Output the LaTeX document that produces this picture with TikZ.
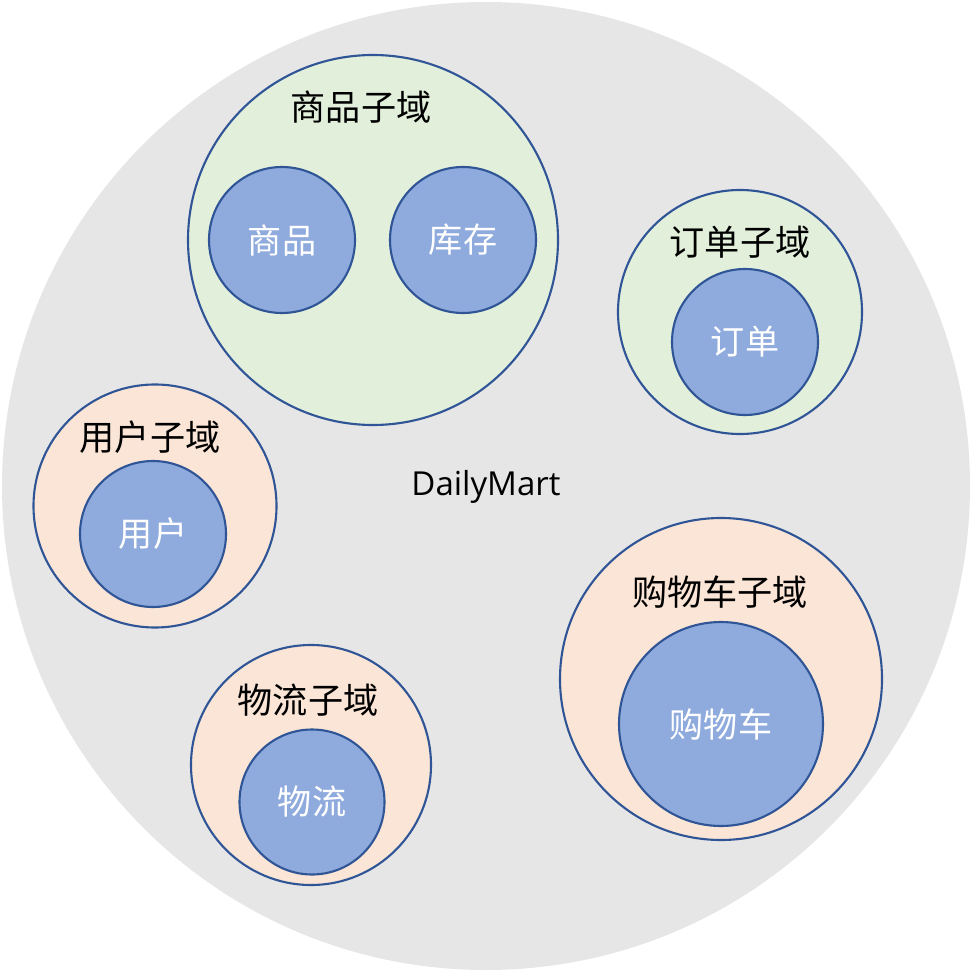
\documentclass[tikz,border=0pt]{standalone}
\usepackage{fontspec}
\setmainfont{Noto Sans CJK SC}
\newfontfamily\martfont{Open Sans}
\usepackage{tikz}
\definecolor{martBg}{RGB}{231,230,230}
\definecolor{domGreen}{RGB}{226,239,218}
\definecolor{domPeach}{RGB}{251,229,214}
\definecolor{entBg}{RGB}{143,170,220}
\definecolor{edgeInk}{RGB}{47,85,151}

\begin{document}
\begin{tikzpicture}[
  x=0.1mm, y=-0.1mm,
  mart/.style   ={circle, fill=martBg, inner sep=0pt, minimum size=96.8mm},
  greendom/.style={circle, draw=edgeInk, line width=.6pt, fill=domGreen, inner sep=0pt},
  peachdom/.style={circle, draw=edgeInk, line width=.6pt, fill=domPeach, inner sep=0pt},
  entity/.style ={circle, draw=edgeInk, line width=.6pt, fill=entBg, inner sep=0pt,
                  minimum size=14.6mm, text=white, font=\fontsize{9.7}{11}\selectfont},
  domlabel/.style={font=\fontsize{10}{12}\selectfont, text=black, inner sep=0pt},
]
\useasboundingbox (0,0) rectangle (972,972);

% ============ WHOLE DOMAIN ============
\node[mart] (mart) at (486,486) {};
\node[font=\martfont\fontsize{9.4}{11}\selectfont, inner sep=0pt] (martname) at (486,487) {DailyMart};

% ============ GREEN SUBDOMAINS ============
\node[greendom, minimum size=37mm] (goodsDom) at (373,240) {};
\node[domlabel] (goodsDomName) at (361,107) {商品子域};
\node[entity] (goods) at (282,240) {商品};
\node[entity] (stock) at (463,240) {库存};

\node[greendom, minimum size=24.4mm] (orderDom) at (740,312) {};
\node[domlabel] (orderDomName) at (740,242) {订单子域};
\node[entity] (order) at (745,342) {订单};

% ============ PEACH SUBDOMAINS ============
\node[peachdom, minimum size=24.3mm] (userDom) at (155,506) {};
\node[domlabel] (userDomName) at (150,437) {用户子域};
\node[entity] (user) at (153,534) {用户};

\node[peachdom, minimum size=24mm] (shipDom) at (311,765) {};
\node[domlabel] (shipDomName) at (308,700) {物流子域};
\node[entity, minimum size=14.5mm] (ship) at (312,802) {物流};

\node[peachdom, minimum size=32.2mm] (cartDom) at (721,679) {};
\node[domlabel] (cartDomName) at (720,592) {购物车子域};
\node[entity, minimum size=20.4mm] (cart) at (721,724) {购物车};

\end{tikzpicture}
\end{document}
